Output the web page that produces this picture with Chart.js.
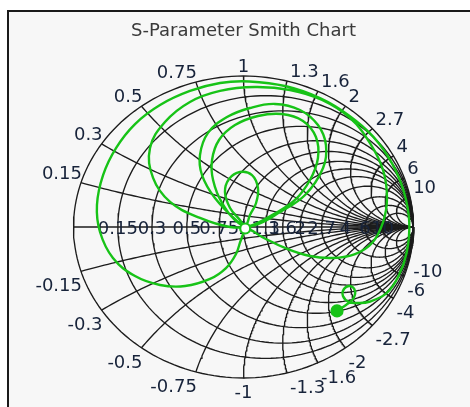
<!DOCTYPE html>
<html lang="en">
<head>
<meta charset="UTF-8">
<title>S-Parameter Smith Chart</title>
<script src="https://cdn.jsdelivr.net/npm/chart.js"></script>
<style>
  body { margin: 0; background: #fff; width: 470px; height: 407px; overflow: hidden; position: relative; }
  .frame { position: absolute; left: 7px; top: 10px; width: 520px; height: 440px; border: 2px solid #1a1a1a; background: #f7f7f7; }
  canvas { position: absolute; left: 0; top: 0; }
</style>
</head>
<body>
<div class="frame"></div>
<canvas id="smith" width="470" height="407"></canvas>
<script>
// grid values (normalised impedance)
const resistanceTicks = [0.15, 0.3, 0.5, 0.75, 1, 1.3, 1.6, 2, 2.7, 4, 6, 10];
const resistanceLabels = ["0.15", "0.3", "0.5", "0.75", "1", "1.3", "1.6", "2", "2.7", "4", "6", "10"];
const reactanceTicks = [0.15, 0.3, 0.5, 0.75, 1, 1.3, 1.6, 2, 2.7, 4, 6, 10];
const reactanceLabels = ["0.15", "0.3", "0.5", "0.75", "1", "1.3", "1.6", "2", "2.7", "4", "6", "10"];

const traceRe = [
  0.01,
  -0.021, -0.079, -0.109, -0.085, -0.021, 0.05, 0.085, 0.074, 0.038, 0.012,
  -0.032, -0.168, -0.244, -0.256, -0.209, -0.097, 0.038, 0.185, 0.332, 0.438, 0.485, 0.468, 0.362, 0.215, 0.068,
  -0.021, -0.126, -0.179, -0.185, -0.144, -0.05, 0.085, 0.226, 0.35, 0.426, 0.438, 0.391, 0.303, 0.168, 0.038,
  -0.079, -0.256, -0.432, -0.532, -0.55, -0.462, -0.315, -0.138, 0.068, 0.274, 0.462, 0.626, 0.744, 0.821, 0.844, 0.821, 0.756, 0.656, 0.526, 0.391, 0.244, 0.109, 0.02,
  -0.015, -0.044, -0.103, -0.197, -0.344, -0.491, -0.638, -0.768, -0.844, -0.862, -0.826, -0.75, -0.638, -0.491, -0.315, -0.138, 0.034, 0.25, 0.453, 0.62, 0.764, 0.872, 0.943, 0.975, 0.96, 0.91, 0.84, 0.74,
  0.674, 0.621, 0.585, 0.591, 0.626, 0.656, 0.644, 0.603, 0.55
];
const traceIm = [
  -0.01,
  0.046, 0.126, 0.232, 0.318, 0.364, 0.344, 0.258, 0.159, 0.079, 0.01,
  0.033, 0.192, 0.344, 0.477, 0.623, 0.728, 0.788, 0.815, 0.775, 0.675, 0.543, 0.391, 0.212, 0.099, 0.013,
  0.02, 0.159, 0.311, 0.444, 0.576, 0.675, 0.735, 0.748, 0.702, 0.596, 0.457, 0.311, 0.179, 0.079, 0.007,
  0.0, 0.06, 0.166, 0.325, 0.523, 0.695, 0.828, 0.901, 0.927, 0.907, 0.841, 0.722, 0.556, 0.377, 0.192, 0.033, -0.106, -0.179, -0.205, -0.192, -0.139, -0.066, -0.015,
  -0.086, -0.179, -0.272, -0.344, -0.391, -0.384, -0.325, -0.205, -0.033, 0.146, 0.344, 0.523, 0.682, 0.808, 0.901, 0.954, 0.964, 0.932, 0.852, 0.739, 0.597, 0.425, 0.235, 0.034, -0.169, -0.33, -0.44, -0.495,
  -0.503, -0.497, -0.457, -0.411, -0.391, -0.424, -0.477, -0.517, -0.556
];

const gridColor = '#1c1c1c';
const traceColor = '#17c317';
const labelColor = '#17233a';
const labelFont = '18px "DejaVu Sans", Verdana, sans-serif';

// z = r + jx  ->  gamma
function gamma(r, x) {
  const d = (r + 1) * (r + 1) + x * x;
  return { x: (r * r + x * x - 1) / d, y: (2 * x) / d };
}

function resistanceCircle(r) {
  const c = r / (1 + r), rad = 1 / (1 + r), pts = [];
  for (let a = 0; a <= 360; a += 2) {
    const t = a * Math.PI / 180;
    pts.push({ x: c + rad * Math.cos(t), y: rad * Math.sin(t) });
  }
  return pts;
}

function reactanceArc(x) {
  const pts = [];
  for (let a = 0; a < 90; a += 0.75) {
    pts.push(gamma(Math.tan(a * Math.PI / 180), x));
  }
  pts.push({ x: 1, y: 0 });
  return pts;
}

function gridSet(data) {
  return {
    data: data, showLine: true, borderColor: gridColor, borderWidth: 1.35,
    pointRadius: 0, tension: 0, fill: false, clip: false, order: 1
  };
}

const datasets = [];
datasets.push(gridSet(resistanceCircle(0)));
datasets.push(gridSet([{ x: -1, y: 0 }, { x: 1, y: 0 }]));
resistanceTicks.forEach(r => datasets.push(gridSet(resistanceCircle(r))));
reactanceTicks.forEach(x => {
  datasets.push(gridSet(reactanceArc(x)));
  datasets.push(gridSet(reactanceArc(-x)));
});

const trace = traceRe.map((re, i) => ({ x: re, y: traceIm[i] }));
const last = trace.length - 1;
const traceIndex = datasets.length;
datasets.push({
  data: trace, showLine: true, borderColor: traceColor, borderWidth: 2.4,
  tension: 0.4, fill: false, clip: false, order: 0,
  pointRadius: ctx => (ctx.dataIndex === 0 ? 5 : ctx.dataIndex === last ? 5.5 : 0),
  pointBackgroundColor: ctx => (ctx.dataIndex === last ? traceColor : '#ffffff'),
  pointBorderColor: traceColor,
  pointBorderWidth: 2.2
});

// labels go on top of the grid, under the trace
const labelsPlugin = {
  id: 'smithLabels',
  beforeDatasetDraw(chart, args) {
    if (args.index !== traceIndex) return;
    const ctx = chart.ctx, sx = chart.scales.x, sy = chart.scales.y;
    ctx.save();
    ctx.font = labelFont;
    ctx.fillStyle = labelColor;
    ctx.textBaseline = 'alphabetic';
    ctx.textAlign = 'center';
    resistanceTicks.forEach((r, i) => {
      const g = gamma(r, 0);
      ctx.fillText(resistanceLabels[i], sx.getPixelForValue(g.x), sy.getPixelForValue(0) + 7);
    });
    reactanceTicks.forEach((x, i) => {
      [1, -1].forEach(s => {
        const g = gamma(0, s * x);
        let px = sx.getPixelForValue(g.x);
        const py = sy.getPixelForValue(g.y);
        if (g.x < -0.05) { ctx.textAlign = 'right'; px += 1; }
        else if (g.x > 0.05) { ctx.textAlign = 'left'; px += 3; }
        else { ctx.textAlign = 'center'; }
        const text = (s < 0 ? '-' : '') + reactanceLabels[i];
        ctx.fillText(text, px, s > 0 ? py - 4 : py + 20);
      });
    });
    ctx.restore();
  }
};

new Chart(document.getElementById('smith'), {
  type: 'scatter',
  data: { datasets: datasets },
  options: {
    responsive: false,
    animation: false,
    layout: { padding: { left: 73.5, right: 56.5, top: 0, bottom: 29 } },
    scales: {
      x: { type: 'linear', min: -1, max: 1, display: false },
      y: { type: 'linear', min: -1, max: 1, display: false }
    },
    plugins: {
      legend: { display: false },
      tooltip: { enabled: false },
      title: {
        display: true,
        text: 'S-Parameter Smith Chart',
        color: '#3a3a3a',
        font: { family: '"DejaVu Sans", Verdana, sans-serif', size: 18, weight: 'normal' },
        padding: { top: 21, bottom: 33.4 }
      }
    }
  },
  plugins: [labelsPlugin]
});
</script>
</body>
</html>
